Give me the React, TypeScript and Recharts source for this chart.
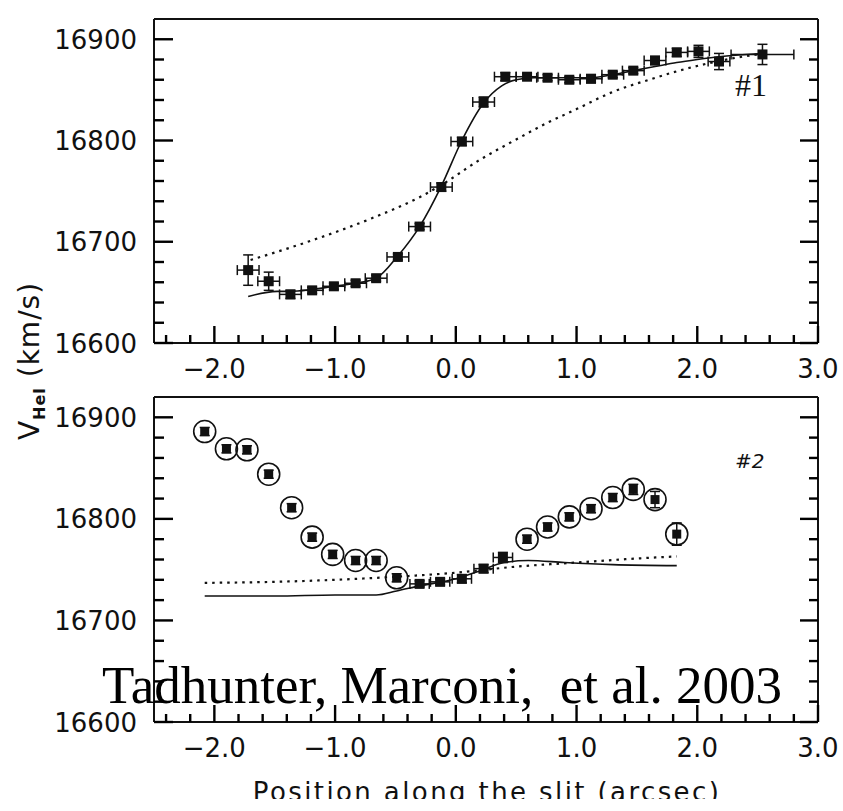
import { ComposedChart, Scatter, Line, XAxis, YAxis, ErrorBar } from "recharts";

// axis ticks (minor every 0.2 / 20 km/s, labels on the majors)
const xTicks = [-2.4, -2.2, -2.0, -1.8, -1.6, -1.4, -1.2, -1.0, -0.8, -0.6, -0.4, -0.2, 0.0, 0.2, 0.4, 0.6, 0.8, 1.0, 1.2, 1.4, 1.6, 1.8, 2.0, 2.2, 2.4, 2.6, 2.8, 3.0];
const yTicks = [16600, 16620, 16640, 16660, 16680, 16700, 16720, 16740, 16760, 16780, 16800, 16820, 16840, 16860, 16880, 16900];

// panel #1 measurements
const pos1 = [-1.72, -1.55, -1.37, -1.19, -1.01, -0.83, -0.66, -0.48, -0.30, -0.12, 0.05, 0.23, 0.41, 0.59, 0.76, 0.94, 1.12, 1.30, 1.47, 1.65, 1.83, 2.01, 2.18, 2.54];
const vel1 = [16672, 16661, 16648, 16652, 16656, 16659, 16664, 16685, 16715, 16754, 16799, 16838, 16863, 16863, 16862, 16860, 16861, 16865, 16869, 16879, 16887, 16888, 16878, 16885];
const errV1 = [15, 9, 4, 3, 3, 3, 3, 3, 3, 4, 4, 5, 4, 3, 3, 3, 4, 3, 3, 4, 4, 6, 8, 10];
const errX1 = [0.09, 0.09, 0.09, 0.09, 0.09, 0.09, 0.09, 0.09, 0.09, 0.09, 0.09, 0.09, 0.09, 0.09, 0.09, 0.09, 0.09, 0.09, 0.09, 0.09, 0.09, 0.09, 0.09, 0.26];

// panel #1 models
const solidX1 = [-1.72, -1.48, -1.37, -1.19, -1.01, -0.83, -0.66, -0.48, -0.30, -0.12, 0.05, 0.23, 0.38, 0.50, 0.65, 0.85, 1.10, 1.30, 1.47, 1.65, 1.83, 2.00, 2.20, 2.54];
const solidV1 = [16646, 16651, 16651, 16653, 16656, 16659, 16664, 16686, 16715, 16755, 16800, 16837, 16854, 16860, 16862, 16862, 16862, 16865, 16869, 16873, 16877, 16880, 16883, 16886];
const dotX1 = [-1.70, -1.20, -0.70, -0.30, -0.12, 0.20, 0.50, 0.75, 1.00, 1.30, 1.60, 1.85, 2.20, 2.55];
const dotV1 = [16682, 16701, 16723, 16744, 16756, 16781, 16801, 16817, 16831, 16848, 16860, 16869, 16879, 16886];

// panel #2 measurements
const pos2 = [-2.08, -1.90, -1.73, -1.55, -1.36, -1.19, -1.02, -0.83, -0.66, -0.49, -0.30, -0.13, 0.05, 0.23, 0.39, 0.59, 0.76, 0.94, 1.12, 1.30, 1.47, 1.65, 1.83];
const vel2 = [16886, 16869, 16868, 16844, 16811, 16782, 16765, 16759, 16759, 16742, 16736, 16738, 16741, 16751, 16762, 16780, 16792, 16802, 16810, 16821, 16829, 16819, 16785];
const errV2 = [4, 4, 4, 4, 4, 4, 4, 4, 4, 4, 3, 3, 4, 4, 5, 4, 4, 4, 4, 4, 5, 8, 11];
const errX2 = [0, 0, 0, 0, 0, 0, 0, 0, 0, 0, 0.08, 0.08, 0.08, 0.08, 0.08, 0, 0, 0, 0, 0, 0, 0, 0];
const circled2 = [true, true, true, true, true, true, true, true, true, true, false, false, false, false, false, true, true, true, true, true, true, true, true];

// panel #2 models
const solidX2 = [-2.08, -1.50, -1.00, -0.66, -0.49, -0.30, 0.00, 0.20, 0.40, 0.60, 0.90, 1.30, 1.83];
const solidV2 = [16724, 16724, 16725, 16725, 16729, 16734, 16741, 16749, 16757, 16759, 16757, 16755, 16754];
const dotX2 = [-2.08, -1.50, -1.00, -0.50, 0.00, 0.50, 1.00, 1.50, 1.83];
const dotV2 = [16737, 16738, 16740, 16743, 16747, 16753, 16757, 16761, 16763];

const pts1 = pos1.map((x, i) => ({ x, y: vel1[i], ey: errV1[i], ex: errX1[i] }));
const pts2 = pos2.map((x, i) => ({ x, y: vel2[i], ey: errV2[i], ex: errX2[i], c: circled2[i] }));
const toLine = (xs: number[], ys: number[]) => xs.map((x, i) => ({ x, y: ys[i] }));

const INK = "#111";
const TICK_FONT = "DejaVu Sans";
const X_DOM: [number, number] = [-2.5, 3];
const Y_DOM: [number, number] = [16600, 16920];
const TICK_W = 2.4;

const major = (v: number, step: number) => Math.abs(v / step - Math.round(v / step)) < 1e-6;
const fmtX = (v: number) => v.toFixed(1).replace("-", "\u2212");

// ticks point into the frame, so they are drawn by hand from the axis position
const BottomTick = (props: any) => {
  const x = Number(props.x);
  const y = Number(props.y);
  const v = props.payload.value;
  const big = major(v, 1);
  return (
    <g>
      <path d={`M${x},${y}V${y - (big ? 17 : 8)}`} stroke="#000" strokeWidth={TICK_W} fill="none" />
      {big && (
        <text x={x} y={y + 35} textAnchor="middle" fontFamily={TICK_FONT} fontSize={26} fill={INK}>
          {fmtX(v)}
        </text>
      )}
    </g>
  );
};

const TopTick = (props: any) => {
  const x = Number(props.x);
  const y = Number(props.y);
  const big = major(props.payload.value, 1);
  return <path d={`M${x},${y}V${y + (big ? 17 : 8)}`} stroke="#000" strokeWidth={TICK_W} fill="none" />;
};

const LeftTick = (props: any) => {
  const x = Number(props.x);
  const y = Number(props.y);
  const v = props.payload.value;
  const big = major(v, 100);
  return (
    <g>
      <path d={`M${x},${y}H${x + (big ? 19 : 10)}`} stroke="#000" strokeWidth={TICK_W} fill="none" />
      {big && (
        <text x={x - 17} y={y + 9.5} textAnchor="end" fontFamily={TICK_FONT} fontSize={26} fill={INK}>
          {v}
        </text>
      )}
    </g>
  );
};

const RightTick = (props: any) => {
  const x = Number(props.x);
  const y = Number(props.y);
  const big = major(props.payload.value, 100);
  return <path d={`M${x},${y}H${x - (big ? 18 : 9)}`} stroke="#000" strokeWidth={TICK_W} fill="none" />;
};

const SquareDot = (props: any) => {
  const { cx, cy } = props;
  return <rect x={cx - 5} y={cy - 5} width={10} height={10} fill={INK} />;
};

const CircledDot = (props: any) => {
  const { cx, cy } = props;
  return (
    <g>
      <circle cx={cx} cy={cy} r={11} fill="none" stroke={INK} strokeWidth={1.6} />
      <rect x={cx - 4.5} y={cy - 4.5} width={9} height={9} fill={INK} />
    </g>
  );
};

const frame = { stroke: INK, strokeWidth: 2 };

const Panel = ({ children, top, marginBottom }: any) => (
  <div style={{ position: "absolute", left: 0, top }}>
    <ComposedChart width={843} height={395} margin={{ top: 18, right: 24, bottom: marginBottom, left: 54 }}>
      <XAxis xAxisId="b" type="number" dataKey="x" domain={X_DOM} ticks={xTicks} interval={0}
        height={40} tickSize={0} tickMargin={0} tickLine={false} axisLine={frame} tick={BottomTick} allowDataOverflow />
      <XAxis xAxisId="t" orientation="top" type="number" domain={X_DOM} ticks={xTicks} interval={0}
        height={1} tickSize={0} tickMargin={0} tickLine={false} axisLine={frame} tick={TopTick} allowDataOverflow />
      <YAxis yAxisId="l" type="number" domain={Y_DOM} ticks={yTicks} interval={0}
        width={100} tickSize={0} tickMargin={0} tickLine={false} axisLine={frame} tick={LeftTick} allowDataOverflow />
      <YAxis yAxisId="r" orientation="right" type="number" domain={Y_DOM} ticks={yTicks} interval={0}
        width={1} tickSize={0} tickMargin={0} tickLine={false} axisLine={frame} tick={RightTick} allowDataOverflow />
      {children}
    </ComposedChart>
  </div>
);

const modelLines = (solid: any[], dotted: any[]) => [
  <Line key="dot" data={dotted} dataKey="y" xAxisId="b" yAxisId="l" type="monotone" stroke={INK}
    strokeWidth={2.2} strokeDasharray="2.5 5" dot={false} isAnimationActive={false} />,
  <Line key="solid" data={solid} dataKey="y" xAxisId="b" yAxisId="l" type="monotone" stroke={INK}
    strokeWidth={1.6} dot={false} isAnimationActive={false} />,
];

export default function App() {
  const plain2 = pts2.filter((p) => !p.c);
  const ring2 = pts2.filter((p) => p.c);
  return (
    <div style={{ position: "absolute", left: 0, top: 0, width: 843, height: 811, background: "#fff", overflow: "hidden" }}>
      <Panel top={0} marginBottom={12}>
        {modelLines(toLine(solidX1, solidV1), toLine(dotX1, dotV1))}
        <Scatter data={pts1} dataKey="y" xAxisId="b" yAxisId="l" shape={SquareDot} isAnimationActive={false}>
          <ErrorBar dataKey="ey" direction="y" width={5} stroke={INK} strokeWidth={1.5} />
          <ErrorBar dataKey="ex" direction="x" width={5} stroke={INK} strokeWidth={1.5} />
        </Scatter>
      </Panel>
      <Panel top={378} marginBottom={11}>
        {modelLines(toLine(solidX2, solidV2), toLine(dotX2, dotV2))}
        <Scatter data={plain2} dataKey="y" xAxisId="b" yAxisId="l" shape={SquareDot} isAnimationActive={false}>
          <ErrorBar dataKey="ey" direction="y" width={5} stroke={INK} strokeWidth={1.5} />
          <ErrorBar dataKey="ex" direction="x" width={5} stroke={INK} strokeWidth={1.5} />
        </Scatter>
        <Scatter data={ring2} dataKey="y" xAxisId="b" yAxisId="l" shape={CircledDot} isAnimationActive={false}>
          <ErrorBar dataKey="ey" direction="y" width={5} stroke={INK} strokeWidth={1.5} />
        </Scatter>
      </Panel>
      <svg width={843} height={811} style={{ position: "absolute", left: 0, top: 0, pointerEvents: "none" }}>
        <defs>
          <clipPath id="cut">
            <rect x={0} y={0} width={843} height={799} />
          </clipPath>
        </defs>
        <text transform="translate(39,361) rotate(-90)" textAnchor="middle" fontFamily={TICK_FONT} fontSize={28} fill={INK} letterSpacing={1}>
          V<tspan fontSize={16} fontWeight="bold" dy={6}>Hel</tspan>
          <tspan dy={-6}>{" (km/s)"}</tspan>
        </text>
        <text x={487} y={801} textAnchor="middle" fontFamily={TICK_FONT} fontSize={26} letterSpacing={2.4} fill={INK} clipPath="url(#cut)">
          Position along the slit (arcsec)
        </text>
        <text x={735} y={96} fontFamily="Liberation Serif" fontSize={32} fill={INK}>#1</text>
        <text x={735} y={468} fontFamily={TICK_FONT} fontSize={20} fontStyle="italic" fill={INK}>#2</text>
        <text x={102} y={703} fontFamily="Liberation Serif" fontSize={53} fill="#000" style={{ whiteSpace: "pre" }}>
          {"Tadhunter, Marconi,  et al. 2003"}
        </text>
      </svg>
    </div>
  );
}
